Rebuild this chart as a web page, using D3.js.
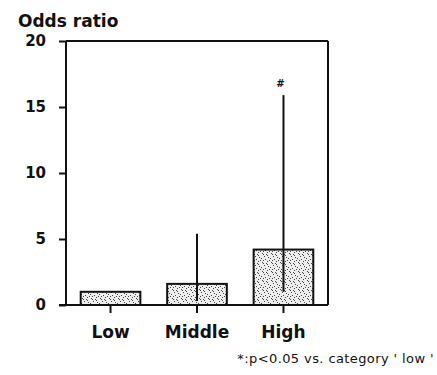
<!DOCTYPE html>
<html>
<head>
<meta charset="utf-8">
<script src="https://cdn.jsdelivr.net/npm/d3@7"></script>
<style>
  html, body { margin: 0; padding: 0; background: #fff; }
  svg { display: block; }
  text { font-family: "DejaVu Sans", sans-serif; fill: #111; }
</style>
</head>
<body>
<svg id="chart" width="437" height="375"></svg>
<script>
// Odds ratio by category, with 95% confidence limits
const categories = ["Low", "Middle", "High"];
const oddsRatio = [1.0, 1.6, 4.2];
const ciLower = [null, 0.3, 1.0];
const ciUpper = [null, 5.4, 15.9];
const marks = ["", "", "#"];
const yTicks = [0, 5, 10, 15, 20];
const yTitle = "Odds ratio";
const footnote = "*:p<0.05 vs. category ' low '";

const svg = d3.select("#chart");
const plot = { left: 66, right: 328, top: 41, bottom: 305 };

const x = d3.scaleBand()
  .domain(categories)
  .range([plot.left, plot.right])
  .paddingInner(0.31)
  .paddingOuter(0.17);

const y = d3.scaleLinear().domain([0, 20]).range([plot.bottom, plot.top]);

// stippled fill for the bars
const defs = svg.append("defs");
const pat = defs.append("pattern")
  .attr("id", "stipple")
  .attr("patternUnits", "userSpaceOnUse")
  .attr("width", 9).attr("height", 9);
pat.append("rect").attr("width", 9).attr("height", 9).attr("fill", "#eeeeee");
[[1,1],[5,2],[3,4],[7,5],[0,6],[4,7],[8,8],[2,8],[6,0],[6,3],[2,2]].forEach(([px, py]) => {
  pat.append("rect").attr("x", px).attr("y", py).attr("width", 1).attr("height", 1).attr("fill", "#444");
});

// bars
svg.append("g").selectAll("rect")
  .data(categories)
  .join("rect")
  .attr("x", d => x(d))
  .attr("y", (d, i) => y(oddsRatio[i]))
  .attr("width", x.bandwidth())
  .attr("height", (d, i) => y(0) - y(oddsRatio[i]))
  .attr("fill", "url(#stipple)")
  .attr("stroke", "#111")
  .attr("stroke-width", 2);

// confidence interval lines
svg.append("g").selectAll("line")
  .data(categories.filter((d, i) => ciUpper[i] !== null))
  .join("line")
  .attr("x1", d => x(d) + x.bandwidth() / 2)
  .attr("x2", d => x(d) + x.bandwidth() / 2)
  .attr("y1", d => y(ciLower[categories.indexOf(d)]))
  .attr("y2", d => y(ciUpper[categories.indexOf(d)]))
  .attr("stroke", "#111")
  .attr("stroke-width", 2);

// significance marks
svg.append("g").selectAll("text")
  .data(categories.filter((d, i) => marks[i]))
  .join("text")
  .attr("x", d => x(d) + x.bandwidth() / 2 - 3)
  .attr("y", d => y(ciUpper[categories.indexOf(d)]) - 8)
  .attr("text-anchor", "middle")
  .attr("font-size", 10)
  .attr("font-weight", "bold")
  .text(d => marks[categories.indexOf(d)]);

// frame: top and right edges
svg.append("line")
  .attr("x1", plot.left).attr("x2", plot.right)
  .attr("y1", plot.top).attr("y2", plot.top)
  .attr("stroke", "#111").attr("stroke-width", 2);
svg.append("line")
  .attr("x1", plot.right).attr("x2", plot.right)
  .attr("y1", plot.top).attr("y2", plot.bottom)
  .attr("stroke", "#111").attr("stroke-width", 2);

// y axis
const yAxis = svg.append("g")
  .attr("transform", `translate(${plot.left},0)`)
  .call(d3.axisLeft(y).tickValues(yTicks).tickSize(7).tickPadding(13).tickFormat(d3.format("d")));
yAxis.select(".domain").attr("stroke", "#111").attr("stroke-width", 2).attr("d", `M0,${plot.top}V${plot.bottom}`);
yAxis.selectAll(".tick line").attr("stroke", "#111").attr("stroke-width", 2);
yAxis.selectAll(".tick text")
  .attr("font-family", "DejaVu Sans, sans-serif")
  .attr("font-size", 15).attr("font-weight", "bold").attr("fill", "#111");

// x axis
const xAxis = svg.append("g")
  .attr("transform", `translate(0,${plot.bottom})`)
  .call(d3.axisBottom(x).tickSize(8).tickPadding(13));
xAxis.select(".domain").attr("stroke", "#111").attr("stroke-width", 2)
  .attr("d", `M${plot.left - 7},0H${plot.right}`);
xAxis.selectAll(".tick line").attr("stroke", "#111").attr("stroke-width", 2);
xAxis.selectAll(".tick text")
  .attr("font-family", "DejaVu Sans, sans-serif")
  .attr("font-size", 17).attr("font-weight", "bold").attr("fill", "#111");

// axis title
svg.append("text")
  .attr("x", 18).attr("y", 27)
  .attr("font-size", 17).attr("font-weight", "bold")
  .text(yTitle);

// footnote
svg.append("text")
  .attr("x", 434).attr("y", 363)
  .attr("text-anchor", "end")
  .attr("font-size", 13)
  .attr("letter-spacing", 0.4)
  .text(footnote);
</script>
</body>
</html>
